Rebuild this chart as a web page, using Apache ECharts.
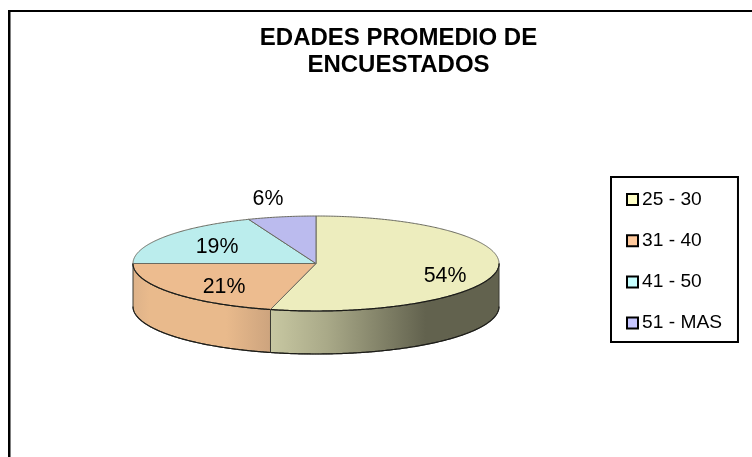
<!DOCTYPE html>
<html>
<head>
<meta charset="utf-8">
<style>html,body{margin:0;padding:0;background:#fff}#c{width:752px;height:457px}</style>
<script src="https://cdn.jsdelivr.net/npm/echarts@6/dist/echarts.min.js"></script>
</head>
<body>
<div id="c"></div>
<script>
const categories = ['25 - 30', '31 - 40', '41 - 50', '51 - MAS'];
const values = [54, 21, 19, 6];
const titleText = 'EDADES PROMEDIO DE\nENCUESTADOS';
const topColors = ['#EDEDBE', '#EDBC8F', '#BBEDED', '#BBBBEE'];
const legendColors = ['#FFFFC6', '#FFC99C', '#C6FFFF', '#C6C6FF'];
const labelShift = [[129, 13], [-92, 24], [-99, -16], [-48, -64]];

const CX = 316, CY = 263.5, RX = 183, RY = 47.5, DEPTH = 43;
const total = values.reduce((a, b) => a + b, 0);
const starts = [];
values.reduce((acc, v, i) => { starts[i] = acc; return acc + v / total * 360; }, 0);

function pt(deg, dy) {
  const r = deg * Math.PI / 180;
  return [CX + RX * Math.sin(r), CY - RY * Math.cos(r) + (dy || 0)];
}
function arc(a, b, dy) {
  const pts = [];
  const n = Math.max(2, Math.ceil(Math.abs(b - a) * 2));
  for (let i = 0; i <= n; i++) pts.push(pt(a + (b - a) * i / n, dy));
  return pts;
}
function wallFill(i) {
  if (i === 0) return new echarts.graphic.LinearGradient(270, 0, 499, 0, [
    {offset: 0, color: '#C8C8A2'}, {offset: 0.25, color: '#A9A988'},
    {offset: 0.68, color: '#62624E'}, {offset: 1, color: '#62624E'}], true);
  return new echarts.graphic.LinearGradient(133, 0, 270, 0, [
    {offset: 0, color: '#DDB289'}, {offset: 0.12, color: '#E9BA8C'},
    {offset: 0.68, color: '#E9BA8C'}, {offset: 1, color: '#CDA47E'}], true);
}
function render(i) {
  return function () {
    const a = starts[i], b = a + values[i] / total * 360;
    const children = [];
    const lo = Math.max(a, 90), hi = Math.min(b, 270);
    if (hi > lo) {
      const front = arc(lo, hi, 0), back = arc(hi, lo, DEPTH);
      children.push({type: 'polygon', shape: {points: front.concat(back)},
        style: {fill: wallFill(i), stroke: '#3a3a32', lineWidth: 1}});
      children.push({type: 'polyline', shape: {points: arc(lo, hi, DEPTH)},
        style: {fill: null, stroke: '#1c1c18', lineWidth: 1.2}});
    }
    children.push({type: 'polygon', shape: {points: [[CX, CY]].concat(arc(a, b, 0))},
      style: {fill: topColors[i], stroke: '#6a6a60', lineWidth: 1}});
    if (hi > lo) {
      children.push({type: 'polyline', shape: {points: arc(lo, hi, 0)},
        style: {fill: null, stroke: '#1c1c18', lineWidth: 1.2}});
    }
    children.push({type: 'text', z2: 10, style: {
      text: values[i] + '%', x: CX + labelShift[i][0], y: CY + labelShift[i][1],
      align: 'center', verticalAlign: 'middle',
      font: '21.33px "Liberation Sans", Arial, sans-serif', fill: '#000'}});
    return {type: 'group', children};
  };
}

const chart = echarts.init(document.getElementById('c'), null, {renderer: 'canvas'});
chart.setOption({
  animation: false,
  backgroundColor: '#fff',
  title: {
    text: titleText, left: 393.5, top: 20, textAlign: 'center',
    textStyle: {fontFamily: '"Liberation Sans", Arial, sans-serif', fontWeight: 'bold',
      fontSize: 24, lineHeight: 27, color: '#000'}
  },
  legend: {
    orient: 'vertical', left: 611, top: 177, width: 127,
    padding: [13, 16, 9.5, 15], itemGap: 22.2, itemWidth: 11, itemHeight: 11,
    borderColor: '#000', borderWidth: 2, backgroundColor: '#fff', icon: 'rect',
    selectedMode: false,
    textStyle: {fontFamily: '"Liberation Sans", Arial, sans-serif', fontSize: 19.2,
      color: '#000', padding: [0, 0, 0, -1]},
    data: categories.map((name, i) => ({name,
      itemStyle: {color: legendColors[i], borderColor: '#000', borderWidth: 2}}))
  },
  graphic: [
    {type: 'line', silent: true, shape: {x1: 9.25, y1: 457, x2: 9.25, y2: 10},
      style: {stroke: '#000', lineWidth: 2.5}},
    {type: 'line', silent: true, shape: {x1: 8, y1: 11, x2: 752, y2: 11},
      style: {stroke: '#000', lineWidth: 2}}
  ],
  series: categories.map((name, i) => ({
    type: 'custom', name, coordinateSystem: 'none', silent: true,
    itemStyle: {color: topColors[i]},
    renderItem: render(i), data: [values[i]]
  }))
});
</script>
</body>
</html>
